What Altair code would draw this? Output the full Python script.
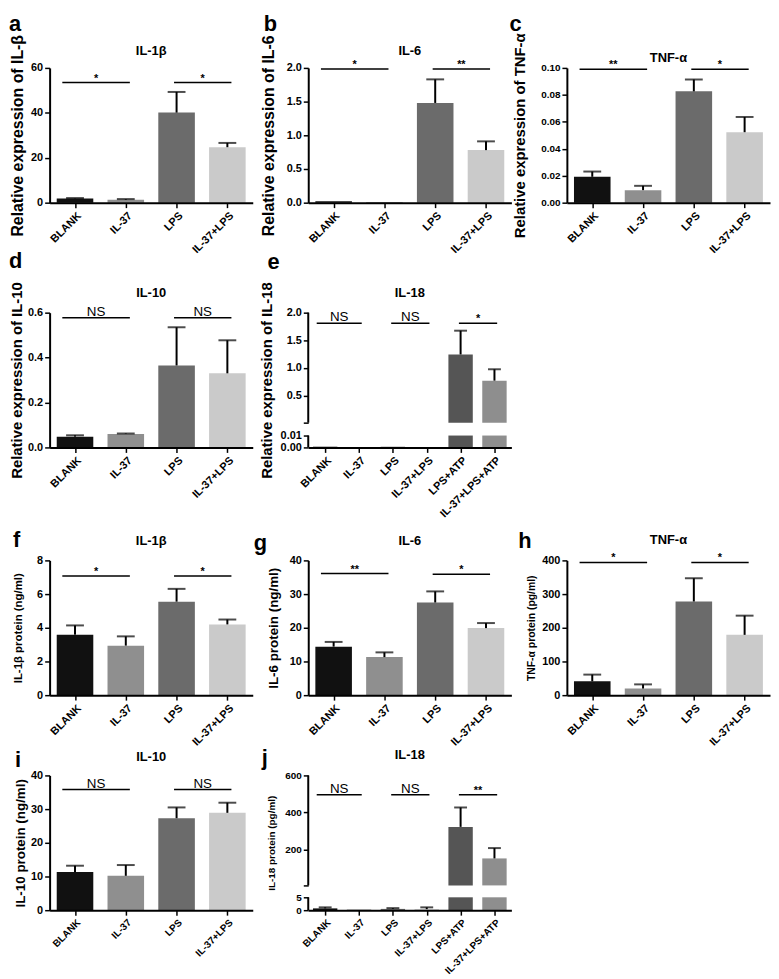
import altair as alt
import pandas as pd

FONT = "Liberation Sans"

CATS4 = ["BLANK", "IL-37", "LPS", "IL-37+LPS"]
CATS6 = ["BLANK", "IL-37", "LPS", "IL-37+LPS", "LPS+ATP", "IL-37+LPS+ATP"]
GREYS = ["#111111", "#8f8f8f", "#6b6b6b", "#cacaca", "#555555", "#8e8e8e"]

# ---------------- mRNA panels (a-e)
A_MEAN = [1.9, 1.3, 40.1, 24.7]
A_ERR = [0.15, 0.3, 9.2, 1.9]
A_SIG = [(0, 1, 53.5, "*"), (2, 3, 53.5, "*")]

B_MEAN = [0.02, 0.01, 1.48, 0.78]
B_ERR = [0.0, 0.0, 0.35, 0.13]
B_SIG = [(0, 1, 1.985, "*"), (2, 3, 1.985, "**")]

C_MEAN = [0.0192, 0.0093, 0.0826, 0.0523]
C_ERR = [0.0039, 0.0032, 0.0088, 0.0113]
C_SIG = [(0, 1, 0.099, "**"), (2, 3, 0.099, "*")]

D_MEAN = [0.048, 0.060, 0.365, 0.330]
D_ERR = [0.006, 0.002, 0.170, 0.147]
D_SIG = [(0, 1, 0.577, "NS"), (2, 3, 0.577, "NS")]

E_MEAN = [0.0006, 0.0003, 0.0006, 0.0003, 1.244, 0.77]
E_ERR = [0, 0, 0, 0, 0.43, 0.206]
E_SIG = [(0, 1, 1.81, "NS"), (2, 3, 1.81, "NS"), (4, 5, 1.81, "*")]

# ---------------- protein panels (f-j)
F_MEAN = [3.59, 2.94, 5.55, 4.20]
F_ERR = [0.55, 0.55, 0.76, 0.29]
F_SIG = [(0, 1, 7.08, "*"), (2, 3, 7.08, "*")]

G_MEAN = [14.4, 11.3, 27.5, 19.9]
G_ERR = [1.4, 1.4, 3.3, 1.5]
G_SIG = [(0, 1, 36.1, "**"), (2, 3, 35.9, "*")]

H_MEAN = [41, 19.7, 278, 179]
H_ERR = [20, 12.3, 69, 57]
H_SIG = [(0, 1, 394, "*"), (2, 3, 394, "*")]

I_MEAN = [11.3, 10.2, 27.3, 28.9]
I_ERR = [1.9, 3.2, 3.2, 3.0]
I_SIG = [(0, 1, 35.8, "NS"), (2, 3, 35.8, "NS")]

J_MEAN = [0.7, 0.3, 0.5, 0.4, 321.6, 151]
J_ERR = [0.4, 0, 0.3, 0.7, 105, 56]
J_SIG = [(0, 1, 496, "NS"), (2, 3, 496, "NS"), (4, 5, 496, "**")]

HALF = 0.36
W = 205


def panel(cats, means, errs, sig, ymax, yticks, yfmt, ytitle, ytsize, ytpad,
          title, toff, letter, lxy, w, h, ylsize=11, xlsize=11, brk=None, cap=18):
    n = len(cats)
    df = pd.DataFrame({"i": list(range(n)), "cat": cats, "val": means, "err": errs})
    sdf = pd.DataFrame(sig, columns=["i1", "i2", "y", "lab"])
    xsc = alt.Scale(domain=[-0.5, n - 0.5], nice=False, zero=False)
    names = "[" + ",".join("'%s'" % c for c in cats) + "]"
    xax = alt.Axis(values=list(range(n)), labelExpr=names + "[round(datum.value)]", title=None,
                   labelAngle=-45, labelAlign="right", labelBaseline="top", labelFont=FONT,
                   labelFontSize=xlsize, labelFontWeight="bold", labelColor="black",
                   labelPadding=2, labelOverlap=False, labelFlush=False, tickSize=5,
                   tickWidth=1.5, tickColor="black", domainColor="black", domainWidth=2,
                   grid=False, zindex=1)
    if brk:
        lo, hi, g1, g2 = brk
        ysc = alt.Scale(domain=[0, lo, hi, ymax], range=[h, h - g1, h - g2, 0],
                        nice=False, zero=False)
    else:
        lo, hi = ymax, None
        ysc = alt.Scale(domain=[0, ymax], nice=False, zero=True)
    yax = alt.Axis(values=yticks, labelExpr=yfmt, title=ytitle, titleFont=FONT,
                   titleFontSize=ytsize, titleFontWeight="bold", titleColor="black",
                   titlePadding=ytpad, labelFont=FONT, labelFontSize=ylsize,
                   labelFontWeight="bold", labelColor="black", labelPadding=2,
                   labelOverlap=False, labelFlush=False, tickSize=5, tickWidth=1.5,
                   tickColor="black", domain=(brk is None), domainColor="black",
                   domainWidth=2, grid=False, zindex=1)

    def X(f):
        return alt.X(f + ":Q", scale=xsc, axis=xax, title=None)

    def Y(f):
        return alt.Y(f + ":Q", scale=ysc, axis=yax)

    # colour scale is shared across the concatenated panels: use one full mapping
    col = alt.Color("cat:N", scale=alt.Scale(domain=CATS6, range=GREYS), legend=None)
    base = alt.Chart(df)
    layers = [
        base.transform_calculate(x0="datum.i - %g" % HALF, x1="datum.i + %g" % HALF,
                                 b0="0", b1="min(datum.val, %r)" % lo)
        .mark_rect().encode(x=X("x0"), x2="x1:Q", y=Y("b0"), y2="b1:Q", color=col)
    ]
    if brk:
        layers.append(
            base.transform_filter("datum.val > %r" % hi)
            .transform_calculate(x0="datum.i - %g" % HALF, x1="datum.i + %g" % HALF,
                                 b0=repr(hi), b1="datum.val")
            .mark_rect().encode(x=X("x0"), x2="x1:Q", y=Y("b0"), y2="b1:Q", color=col))
        seg = pd.DataFrame({"s0": [0, hi], "s1": [lo, ymax]})
        layers.append(alt.Chart(seg).mark_rule(color="black", strokeWidth=2)
                      .encode(x=alt.value(0), y=Y("s0"), y2="s1:Q"))
    eb = base.transform_filter("datum.err > 0").transform_calculate(top="datum.val + datum.err")
    layers.append(eb.mark_rule(color="black", strokeWidth=2)
                  .encode(x=X("i"), y=Y("val"), y2="top:Q"))
    layers.append(eb.mark_tick(orient="horizontal", size=cap, thickness=2, color="black")
                  .encode(x=X("i"), y=Y("top")))
    sb = (alt.Chart(sdf)
          .transform_calculate(sa="datum.i1 + (datum.i1 == 0 ? -0.25 : -0.05)",
                               sz="datum.i2 + 0.08")
          .transform_calculate(sm="(datum.sa + datum.sz) / 2"))
    layers.append(sb.mark_rule(color="black", strokeWidth=1.5)
                  .encode(x=X("sa"), x2="sz:Q", y=Y("y")))
    layers.append(sb.transform_filter("datum.lab == 'NS'")
                  .mark_text(font=FONT, fontSize=13.5, baseline="alphabetic", dy=-2, color="black")
                  .encode(x=X("sm"), y=Y("y"), text="lab:N"))
    layers.append(sb.transform_filter("datum.lab != 'NS'")
                  .mark_text(font=FONT, fontSize=11, fontWeight="bold", baseline="alphabetic",
                             dy=-1, color="black")
                  .encode(x=X("sm"), y=Y("y"), text="lab:N"))
    # panel letter and cytokine heading
    layers.append(alt.Chart(pd.DataFrame({"t": [letter]}))
                  .mark_text(font=FONT, fontSize=22, fontWeight="bold", align="left",
                             baseline="alphabetic", color="black")
                  .encode(text="t:N", x=alt.value(lxy[0]), y=alt.value(lxy[1])))
    layers.append(alt.Chart(pd.DataFrame({"t": [title]}))
                  .mark_text(font=FONT, fontSize=13, fontWeight="bold", align="center",
                             baseline="middle", color="black")
                  .encode(text="t:N", x=alt.value(w / 2), y=alt.value(-toff)))
    return alt.layer(*layers).properties(width=w, height=h)


def blank(h, w=10):
    return (alt.Chart(pd.DataFrame({"t": [""]})).mark_text()
            .encode(text="t:N", x=alt.value(0), y=alt.value(0))
            .properties(width=w, height=h))


FD = "format(datum.value, 'd')"
F1 = "format(datum.value, '.1f')"
F2 = "format(datum.value, '.2f')"
FE = "datum.value == 0.0101 ? '' : (datum.value < 0.1 ? format(datum.value, '.2f') : format(datum.value, '.1f'))"
FJ = "datum.value == 5.01 ? '' : format(datum.value, 'd')"

pa = panel(CATS4, A_MEAN, A_ERR, A_SIG, 60, [0, 20, 40, 60], FD,
           "Relative expression of IL-β", 16, 5, "IL-1β", 17, "a", (-41, -37), W, 136)
pb = panel(CATS4, B_MEAN, B_ERR, B_SIG, 2.0, [0, 0.5, 1.0, 1.5, 2.0], F1,
           "Relative expression of IL-6", 16, 10, "IL-6", 17, "b", (-45, -37), W, 136)
pc = panel(CATS4, C_MEAN, C_ERR, C_SIG, 0.10, [0, 0.02, 0.04, 0.06, 0.08, 0.10], F2,
           "Relative expression of TNF-α", 15, 13, "TNF-α", 10, "c", (-58, -37), W, 136,
           ylsize=10)
pd_ = panel(CATS4, D_MEAN, D_ERR, D_SIG, 0.6, [0, 0.2, 0.4, 0.6], F1,
            "Relative expression of IL-10", 15, 3, "IL-10", 20, "d", (-41, -45), W, 136)
pe = panel(CATS6, E_MEAN, E_ERR, E_SIG, 2.0, [0, 0.01, 0.0101, 0.5, 1.0, 1.5, 2.0], FE,
           "Relative expression of IL-18", 15, 6, "IL-18", 20, "e", (-41, -44), W, 136,
           brk=(0.01, 0.0101, 12, 25), cap=13)
pf = panel(CATS4, F_MEAN, F_ERR, F_SIG, 8, [0, 2, 4, 6, 8], FD,
           "IL-1β protein (ng/ml)", 11.5, 13, "IL-1β", 20, "f", (-37, -14), W, 136)
pg = panel(CATS4, G_MEAN, G_ERR, G_SIG, 40, [0, 10, 20, 30, 40], FD,
           "IL-6 protein (ng/ml)", 13.5, 9, "IL-6", 20, "g", (-55, -10), W, 136)
ph = panel(CATS4, H_MEAN, H_ERR, H_SIG, 400, [0, 100, 200, 300, 400], FD,
           "TNF-α protein (pg/ml)", 10.5, 5, "TNF-α", 21, "h", (-49, -13), W, 136)
pi = panel(CATS4, I_MEAN, I_ERR, I_SIG, 40, [0, 10, 20, 30, 40], FD,
           "IL-10  protein (ng/ml)", 13.5, 3, "IL-10", 19, "i", (-35, -9), W, 136,
           xlsize=10)
pj = panel(CATS6, J_MEAN, J_ERR, J_SIG, 600, [0, 5, 5.01, 200, 400, 600], FJ,
           "IL-18 protein (pg/ml)", 10, 8, "IL-18", 21, "j", (-47, -11), W, 136,
           ylsize=10, xlsize=10, brk=(5, 5.01, 13, 25), cap=13)

cells = [pa, pb, pc,
         blank(111), blank(111), blank(111),
         pd_, pe, blank(136),
         blank(114), blank(114), blank(114),
         pf, pg, ph,
         blank(81), blank(81), blank(81),
         pi, pj, blank(136)]

chart = (alt.concat(*cells, columns=3, spacing={"row": 0, "column": 56},
                    bounds="flush", align="each")
         .properties(padding=0)
         .configure(font=FONT)
         .configure_view(stroke="transparent"))

chart.save("out.html", embed_options={"renderer": "svg", "actions": False})
